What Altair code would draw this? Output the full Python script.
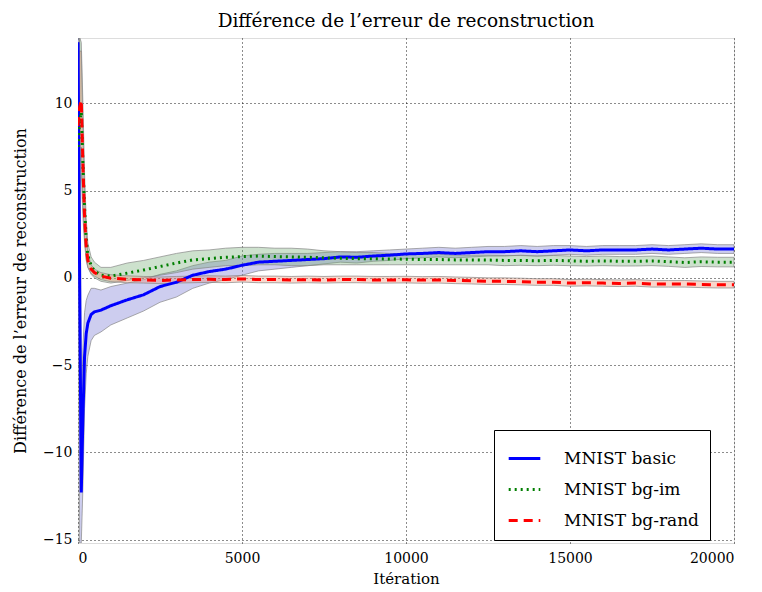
import altair as alt
import pandas as pd

iters = [0, 50, 100, 150, 200, 250, 300, 400, 500, 700, 1000, 1500, 2000, 2500, 3000, 3500, 4000,
         4500, 5000, 5500, 6000, 6500, 7000, 7500, 8000, 8500, 9000, 9500, 10000, 10500, 11000,
         11500, 12000, 12500, 13000, 13500, 14000, 14500, 15000, 15500, 16000, 16500, 17000,
         17500, 18000, 18500, 19000, 19500, 20000]

basic_mean = [13.5, 0.0, -12.3, -8.0, -4.5, -3.2, -2.6, -2.1, -1.95, -1.85, -1.6, -1.26, -0.97, -0.5,
              -0.25, 0.15, 0.36, 0.5, 0.72, 0.9, 0.95, 1.0, 1.05, 1.1, 1.2, 1.18, 1.25, 1.3, 1.37,
              1.4, 1.45, 1.4, 1.45, 1.5, 1.5, 1.55, 1.5, 1.55, 1.6, 1.55, 1.6, 1.6, 1.6, 1.65, 1.6,
              1.65, 1.7, 1.65, 1.65]
basic_lo = [10.0, -15.2, -15.2, -12.0, -7.5, -5.5, -4.5, -3.6, -3.3, -3.1, -2.7, -2.3, -1.9, -1.4,
            -1.1, -0.6, -0.3, -0.1, 0.15, 0.4, 0.5, 0.6, 0.7, 0.8, 0.9, 0.85, 0.95, 1.0, 1.1, 1.15,
            1.2, 1.15, 1.2, 1.25, 1.25, 1.3, 1.25, 1.3, 1.35, 1.3, 1.35, 1.35, 1.35, 1.4, 1.35,
            1.4, 1.45, 1.4, 1.4]
basic_hi = [14.0, 14.0, -8.0, -4.0, -2.0, -1.3, -1.0, -0.6, -0.6, -0.7, -0.5, -0.3, -0.1, 0.2, 0.4,
            0.7, 0.9, 1.0, 1.25, 1.35, 1.4, 1.4, 1.4, 1.45, 1.5, 1.5, 1.55, 1.6, 1.65, 1.7, 1.75,
            1.7, 1.75, 1.8, 1.8, 1.85, 1.8, 1.85, 1.85, 1.8, 1.85, 1.85, 1.85, 1.9, 1.85, 1.9,
            1.95, 1.9, 1.9]

im_mean = [7.5, 9.0, 9.5, 6.5, 4.0, 2.2, 1.3, 0.7, 0.4, 0.15, 0.1, 0.27, 0.45, 0.65, 0.85, 1.03,
           1.1, 1.18, 1.22, 1.25, 1.22, 1.2, 1.18, 1.15, 1.12, 1.1, 1.1, 1.08, 1.07, 1.05, 1.05,
           1.03, 1.03, 1.02, 1.0, 1.0, 0.98, 1.0, 0.98, 0.95, 0.97, 0.95, 0.95, 0.97, 0.93, 0.88,
           0.92, 0.9, 0.9]
im_lo = [4.5, 5.0, 6.0, 3.5, 2.0, 1.0, 0.6, 0.2, 0.0, -0.2, -0.3, -0.15, 0.0, 0.15, 0.3, 0.5, 0.6,
         0.7, 0.7, 0.75, 0.75, 0.7, 0.7, 0.75, 0.75, 0.75, 0.75, 0.75, 0.75, 0.75, 0.75, 0.75,
         0.75, 0.75, 0.7, 0.72, 0.7, 0.72, 0.7, 0.68, 0.7, 0.68, 0.68, 0.7, 0.66, 0.6, 0.65,
         0.63, 0.63]
im_hi = [11.0, 13.8, 13.5, 10.0, 6.0, 3.4, 2.0, 1.2, 0.9, 0.6, 0.6, 0.85, 1.0, 1.2, 1.4, 1.55,
         1.6, 1.7, 1.75, 1.75, 1.7, 1.7, 1.65, 1.55, 1.5, 1.45, 1.45, 1.4, 1.38, 1.35, 1.35, 1.3,
         1.3, 1.3, 1.28, 1.28, 1.25, 1.28, 1.25, 1.22, 1.25, 1.22, 1.22, 1.25, 1.2, 1.15, 1.2,
         1.18, 1.18]

rand_mean = [8.7, 9.8, 10.2, 6.5, 3.5, 1.8, 1.0, 0.5, 0.3, 0.1, -0.02, -0.08, -0.12, -0.15, -0.12,
             -0.1, -0.08, -0.1, -0.06, -0.1, -0.1, -0.12, -0.1, -0.12, -0.1, -0.1, -0.12, -0.12,
             -0.11, -0.13, -0.12, -0.15, -0.17, -0.2, -0.2, -0.22, -0.25, -0.25, -0.3, -0.28,
             -0.3, -0.32, -0.3, -0.35, -0.35, -0.35, -0.38, -0.4, -0.4]
rand_lo = [5.5, 6.5, 7.5, 4.5, 2.3, 1.1, 0.6, 0.25, 0.1, -0.1, -0.22, -0.28, -0.3, -0.33, -0.3,
           -0.28, -0.26, -0.28, -0.24, -0.28, -0.28, -0.3, -0.28, -0.3, -0.28, -0.28, -0.3,
           -0.3, -0.29, -0.31, -0.3, -0.33, -0.35, -0.38, -0.38, -0.4, -0.43, -0.43, -0.48,
           -0.46, -0.48, -0.5, -0.48, -0.53, -0.53, -0.53, -0.56, -0.58, -0.58]
rand_hi = [12.0, 13.0, 13.0, 8.5, 4.7, 2.5, 1.4, 0.75, 0.5, 0.3, 0.18, 0.12, 0.08, 0.05, 0.08,
           0.1, 0.12, 0.1, 0.14, 0.1, 0.1, 0.08, 0.1, 0.08, 0.1, 0.1, 0.08, 0.08, 0.09, 0.07,
           0.08, 0.05, 0.03, 0.0, 0.0, -0.02, -0.05, -0.05, -0.1, -0.08, -0.1, -0.12, -0.1,
           -0.15, -0.15, -0.15, -0.18, -0.2, -0.2]

series_names = ["MNIST basic", "MNIST bg-im", "MNIST bg-rand"]
line_colors = ["#0000ff", "#007f00", "#ff0000"]
band_colors = ["#6f6fd0", "#6fa86f", "#f08a6a"]
dashes = [[1, 0], [2, 4], [9, 6]]

rows = []
for name, bc, m, lo, hi in [
    (series_names[0], band_colors[0], basic_mean, basic_lo, basic_hi),
    (series_names[1], band_colors[1], im_mean, im_lo, im_hi),
    (series_names[2], band_colors[2], rand_mean, rand_lo, rand_hi),
]:
    for i, v, a, b in zip(iters, m, lo, hi):
        rows.append({"it": i, "serie": name, "mean": v, "lo": a, "hi": b, "bandfill": bc})
df = pd.DataFrame(rows)

FONT = "DejaVu Serif"
xscale = alt.Scale(domain=[0, 20000], nice=False, zero=False)
yscale = alt.Scale(domain=[-15.2, 13.75], nice=False, zero=False)

xaxis = alt.Axis(values=[0, 5000, 10000, 15000, 20000], title="Itération", format="d",
                 grid=True, gridDash=[1, 3], gridColor="#000", gridOpacity=0.9,
                 labelFont=FONT, labelFontSize=14, titleFont=FONT, titleFontSize=15,
                 titleFontWeight="normal", ticks=False, domain=False, labelPadding=8,
                 titlePadding=6, labelColor="#000", titleColor="#000")
yaxis = alt.Axis(values=[-15, -10, -5, 0, 5, 10], title="Différence de l’erreur de reconstruction",
                 grid=True, gridDash=[1, 3], gridColor="#000", gridOpacity=0.9,
                 labelFont=FONT, labelFontSize=14, titleFont=FONT, titleFontSize=16,
                 titleFontWeight="normal", ticks=False, domain=False, labelPadding=6,
                 titlePadding=14, labelColor="#000", titleColor="#000")

legend_kw = dict(title=None, orient="none", legendX=416, legendY=392,
                 symbolType="stroke", symbolSize=1000, symbolStrokeWidth=3,
                 labelFont=FONT, labelFontSize=17, labelColor="#000",
                 strokeColor="#000", fillColor="#fff", padding=11, rowPadding=5,
                 labelOffset=22, cornerRadius=0, symbolOffset=2, labelLimit=300)

base = alt.Chart(df)

bands = base.mark_area(clip=True, fillOpacity=0.35, stroke="#888888", strokeWidth=1,
                       strokeOpacity=0.7).encode(
    x=alt.X("it:Q", scale=xscale, axis=xaxis),
    y=alt.Y("lo:Q", scale=yscale, axis=yaxis),
    y2="hi:Q",
    fill=alt.Fill("bandfill:N", scale=None),
    detail="serie:N",
)

lines = base.mark_line(clip=True, strokeWidth=3).encode(
    x=alt.X("it:Q", scale=xscale),
    y=alt.Y("mean:Q", scale=yscale),
    color=alt.Color("serie:N", scale=alt.Scale(domain=series_names, range=line_colors),
                    legend=alt.Legend(**legend_kw)),
    strokeDash=alt.StrokeDash("serie:N", scale=alt.Scale(domain=series_names, range=dashes),
                              legend=alt.Legend(**legend_kw)),
    order=alt.Order("it:Q"),
)

chart = alt.layer(bands, lines).properties(
    width=656, height=505,
    autosize=alt.AutoSizeParams(type="none"),
    padding={"left": 70, "top": 30, "right": 20, "bottom": 48},
    title=alt.Title("Différence de l’erreur de reconstruction", font=FONT, fontSize=18.5,
                    fontWeight="normal", color="#000", offset=8),
).configure_view(stroke="#000", strokeWidth=1.5).configure(background="#fff")

chart.save("out.html", embed_options={"renderer": "svg", "actions": False})
